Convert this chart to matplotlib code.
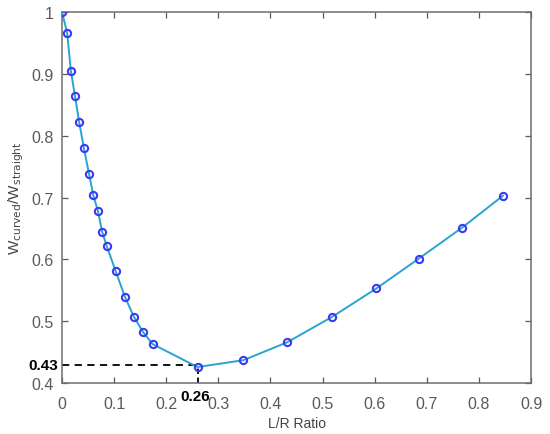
import matplotlib
matplotlib.use("Agg")
import matplotlib.pyplot as plt

lr_ratio = [0.0, 0.010, 0.017, 0.025, 0.033, 0.042, 0.052, 0.060, 0.069, 0.077,
            0.086, 0.103, 0.121, 0.138, 0.156, 0.174, 0.260, 0.348, 0.432, 0.518,
            0.603, 0.684, 0.767, 0.846]
w_ratio = [1.000, 0.966, 0.905, 0.864, 0.822, 0.780, 0.738, 0.704, 0.678, 0.645,
           0.621, 0.581, 0.539, 0.507, 0.482, 0.463, 0.426, 0.437, 0.466, 0.507,
           0.553, 0.601, 0.651, 0.703]
min_x = 0.26
min_y = 0.43
x_ticks = [0, 0.1, 0.2, 0.3, 0.4, 0.5, 0.6, 0.7, 0.8, 0.9]
x_tick_labels = ["0", "0.1", "0.2", "0.3", "0.4", "0.5", "0.6", "0.7", "0.8", "0.9"]
y_ticks = [0.4, 0.5, 0.6, 0.7, 0.8, 0.9, 1.0]
y_tick_labels = ["0.4", "0.5", "0.6", "0.7", "0.8", "0.9", "1"]

plt.rcParams['font.family'] = ['Liberation Sans', 'DejaVu Sans']

fig = plt.figure(figsize=(5.5, 4.35), dpi=100)
ax = fig.add_axes([0.1127, 0.117, 0.853, 0.853])

ax.plot(lr_ratio, w_ratio, '-', color='#2aa3d3', lw=1.4, zorder=3)
ax.plot(lr_ratio, w_ratio, 'o', mfc='none', mec='#3a3af0', mew=1.5, ms=5.2, zorder=4)

ax.plot([0, min_x], [min_y, min_y], '--', color='black', lw=1.3, dashes=(4, 3), zorder=2)
ax.plot([min_x, min_x], [0.4, min_y], '--', color='black', lw=1.3, dashes=(3, 2), zorder=2)

ax.set_xlim(0, 0.9)
ax.set_ylim(0.4, 1.0)
ax.set_xticks(x_ticks)
ax.set_xticklabels(x_tick_labels)
ax.set_yticks(y_ticks)
ax.set_yticklabels(y_tick_labels)

gray = '#5a5a5a'
ax.tick_params(direction='in', top=True, right=True, length=4, width=0.9,
               colors=gray, labelsize=11.5)
ax.tick_params(axis='x', pad=9)
ax.tick_params(axis='y', pad=6)
for s in ax.spines.values():
    s.set_color('#6e6e6e')
    s.set_linewidth(1.1)

ax.text(-0.008, min_y, "0.43", ha='right', va='center', fontsize=11,
        fontweight='bold', color='black', clip_on=False)
ax.text(min_x - 0.005, 0.39, "0.26", ha='center', va='top', fontsize=11,
        fontweight='bold', color='black', clip_on=False)

ax.set_xlabel("L/R Ratio", fontsize=10, color='#444444', labelpad=4)
ax.set_ylabel(r"W$_{\mathrm{curved}}$/W$_{\mathrm{straight}}$", fontsize=11,
              color='#444444', labelpad=4)

fig.savefig("out.png", dpi=100)
